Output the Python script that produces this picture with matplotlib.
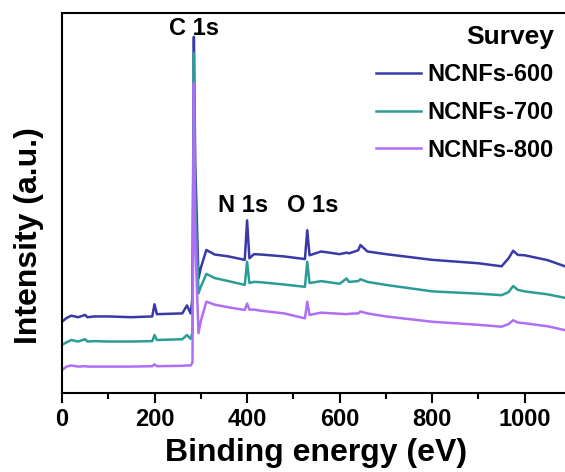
#!/usr/bin/env python3
"""XPS survey spectra of NCNFs carbonised at 600, 700 and 800 C."""

import matplotlib
matplotlib.use('Agg')
import matplotlib.pyplot as plt
from matplotlib.ticker import MultipleLocator

#--- DATA (arbitrary intensity units) -------------------------------------#

energy = [0, 10, 20, 35, 50, 55, 70, 100, 150, 195, 200, 205, 260, 270, 278,
          282, 285, 288, 295, 300, 312, 330, 360, 395, 400, 405, 415, 430,
          480, 525, 530, 535, 560, 600, 615, 620, 640, 645, 660, 700, 800,
          900, 950, 965, 975, 985, 1000, 1050, 1087]

ncnf_600 = [18.8, 19.8, 20.4, 20.0, 20.6, 20.0, 20.2, 20.2, 20.0, 20.2, 23.4,
            20.8, 21.0, 23.1, 21.0, 25.0, 93.8, 60.0, 30.2, 33.0, 37.7, 36.5,
            36.0, 35.1, 45.5, 35.5, 36.6, 36.5, 36.0, 35.3, 42.9, 36.3, 37.3,
            36.6, 37.0, 36.8, 37.6, 39.0, 37.3, 36.6, 35.1, 34.2, 33.4, 35.5,
            37.5, 36.4, 36.3, 35.0, 33.4]

ncnf_700 = [12.7, 13.4, 14.0, 13.6, 14.2, 13.6, 13.7, 13.6, 13.6, 13.7, 15.3,
            14.0, 14.2, 15.3, 14.3, 16.0, 89.5, 50.0, 26.3, 28.0, 31.4, 30.3,
            29.5, 28.5, 34.6, 29.0, 29.3, 29.2, 28.6, 28.0, 34.6, 29.0, 29.5,
            28.8, 30.2, 29.3, 29.5, 30.0, 29.3, 28.5, 26.8, 26.2, 25.8, 26.6,
            28.2, 27.2, 26.8, 26.0, 25.1]

ncnf_800 = [6.1, 7.0, 7.3, 7.0, 7.1, 7.0, 7.0, 7.0, 7.0, 7.1, 7.6,
            7.1, 7.2, 7.3, 7.3, 8.0, 81.6, 40.0, 15.8, 19.0, 24.1, 23.3,
            22.6, 21.9, 23.6, 22.0, 22.0, 21.7, 21.0, 19.7, 24.1, 20.6, 21.2,
            20.9, 20.8, 20.9, 21.0, 21.5, 21.0, 20.2, 18.8, 18.0, 17.5, 18.2,
            19.2, 18.6, 18.4, 17.6, 16.6]

labels = ['NCNFs-600', 'NCNFs-700', 'NCNFs-800']
colors = ['#3a3aa6', '#2b9d96', '#b06ef6']

peak_names = ['C 1s', 'N 1s', 'O 1s']
peak_pos = [286, 391, 541]
peak_y = [96.0, 49.5, 49.5]

#--- PLOT ------------------------------------------------------------------#

plt.rcParams['font.family'] = ['Liberation Sans', 'DejaVu Sans']
plt.rcParams['font.weight'] = 'bold'

fig = plt.figure(figsize=(5.65, 4.72), dpi=100)
ax = fig.add_axes([0.1097, 0.167, 0.8903, 0.8048])

for y, lab, c in zip([ncnf_600, ncnf_700, ncnf_800], labels, colors):
    ax.plot(energy, y, color=c, lw=1.8, label=lab)

for name, xp, yp in zip(peak_names, peak_pos, peak_y):
    ax.text(xp, yp, name, ha='center', va='center', fontsize=17,
            fontweight='bold')

ax.set_xlim(0, 1087)
ax.set_ylim(0, 100)
ax.set_yticks([])
ax.xaxis.set_major_locator(MultipleLocator(200))
ax.xaxis.set_minor_locator(MultipleLocator(100))
ax.tick_params(axis='x', which='major', length=7, width=1.5, labelsize=17,
               pad=4)
ax.tick_params(axis='x', which='minor', length=4, width=1.5)
for s in ['left', 'bottom', 'top']:
    ax.spines[s].set_linewidth(1.5)
ax.spines['right'].set_visible(False)

ax.set_xlabel('Binding energy (eV)', fontsize=23, fontweight='bold')
ax.xaxis.set_label_coords(0.506, -0.118)
ax.set_ylabel('Intensity (a.u.)', fontsize=23, fontweight='bold',
              va='center')
ax.yaxis.set_label_coords(-0.065, 0.416)

leg = ax.legend(loc='upper right', bbox_to_anchor=(0.997, 0.995),
                frameon=False, fontsize=17, title='Survey',
                title_fontproperties={'size': 19, 'weight': 'bold'},
                alignment='right', handlelength=1.9, handletextpad=0.3,
                labelspacing=0.62, borderaxespad=0)

fig.savefig('out.png', dpi=100)
